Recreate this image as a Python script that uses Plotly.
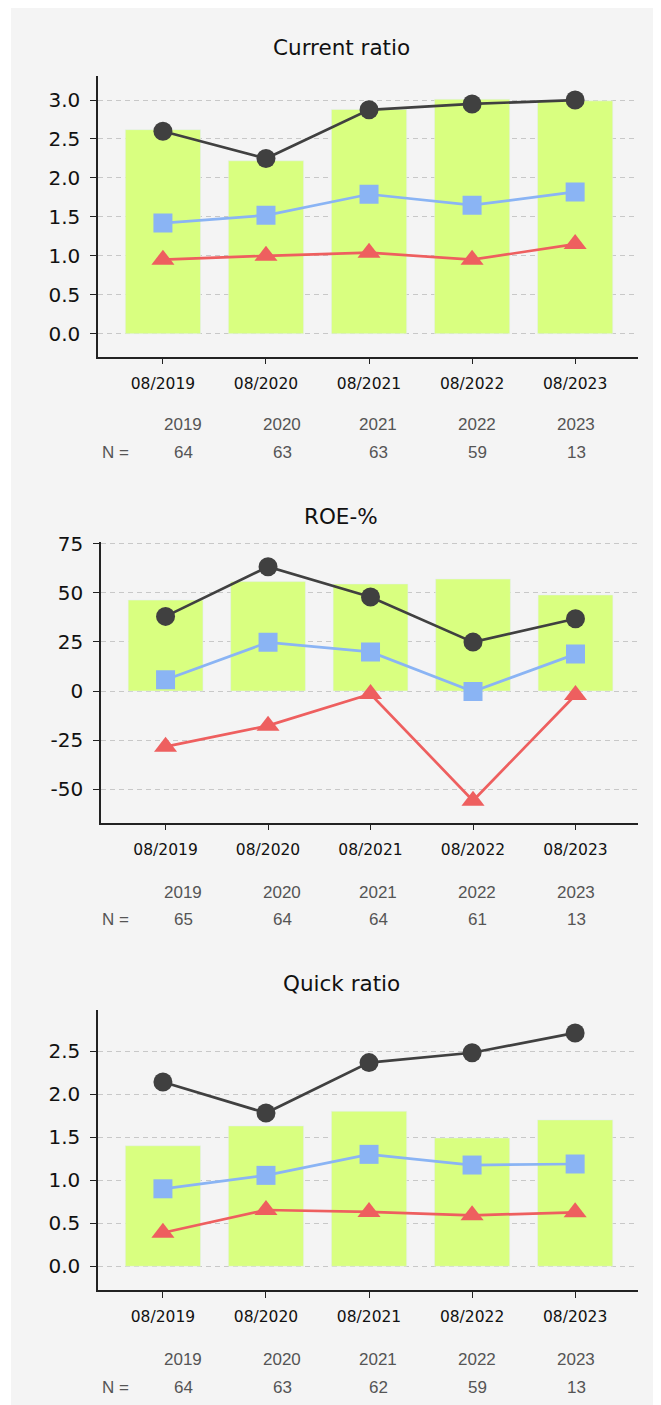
import plotly.graph_objects as go

# page has an 8px body margin, so the figure is shifted by that
OFF = 8
W, H = 661 - OFF, 1405 - OFF

periods = ["08/2019", "08/2020", "08/2021", "08/2022", "08/2023"]
years = ["2019", "2020", "2021", "2022", "2023"]

titles = ["Current ratio", "ROE-%", "Quick ratio"]

# current ratio
cr_bar = [2.62, 2.22, 2.88, 3.01, 2.99]
cr_upper = [2.60, 2.25, 2.875, 2.95, 3.00]
cr_median = [1.42, 1.52, 1.79, 1.65, 1.82]
cr_lower = [0.95, 1.00, 1.04, 0.95, 1.15]
cr_n = [64, 63, 63, 59, 13]

# ROE-%
roe_bar = [46.3, 55.7, 54.5, 57.0, 48.9]
roe_upper = [38.0, 63.3, 47.9, 24.9, 36.8]
roe_median = [5.8, 24.8, 19.9, -0.2, 18.8]
roe_lower = [-28.3, -17.6, -1.5, -55.8, -2.0]
roe_n = [65, 64, 64, 61, 13]

# quick ratio
qr_bar = [1.40, 1.63, 1.80, 1.49, 1.70]
qr_upper = [2.14, 1.78, 2.365, 2.48, 2.71]
qr_median = [0.90, 1.056, 1.30, 1.176, 1.188]
qr_lower = [0.39, 0.654, 0.631, 0.592, 0.627]
qr_n = [64, 63, 62, 59, 13]

cr_ticks = [0.0, 0.5, 1.0, 1.5, 2.0, 2.5, 3.0]
roe_ticks = [-50, -25, 0, 25, 50, 75]
qr_ticks = [0.0, 0.5, 1.0, 1.5, 2.0, 2.5]


def px(x):
    return (x - OFF) / W


def py(y):
    return 1 - (y - OFF) / H


charts = [
    dict(bar=cr_bar, up=cr_upper, med=cr_median, low=cr_lower, n=cr_n,
         ticks=cr_ticks, fmt="{:.1f}", yr=[-0.296, 3.309],
         top=76, bottom=356.7, left=98, title_y=48, yrow=425, nrow=452),
    dict(bar=roe_bar, up=roe_upper, med=roe_median, low=roe_lower, n=roe_n,
         ticks=roe_ticks, fmt="{:d}", yr=[-67.0, 75.7],
         top=542.3, bottom=822.7, left=101, title_y=516, yrow=892, nrow=919),
    dict(bar=qr_bar, up=qr_upper, med=qr_median, low=qr_lower, n=qr_n,
         ticks=qr_ticks, fmt="{:.1f}", yr=[-0.275, 2.976],
         top=1010, bottom=1290, left=98, title_y=983, yrow=1359, nrow=1387),
]

BAR = "#d9ff80"
DARK = "#404040"
BLUE = "#8ab4f4"
RED = "#ee5f5f"
TICKFONT = "DejaVu Sans"
TABFONT = "Liberation Sans, Arial"

year_x = [183, 282, 378, 477, 576]

fig = go.Figure()
annotations = []
for i, c in enumerate(charts):
    k = "" if i == 0 else str(i + 1)
    xa, ya = "x" + k, "y" + k
    fig.add_trace(go.Bar(x=periods, y=c["bar"], marker_color=BAR, width=0.73,
                         xaxis=xa, yaxis=ya, hoverinfo="skip"))
    for vals, col, sym, sz in [(c["up"], DARK, "circle", 19),
                               (c["med"], BLUE, "square", 19),
                               (c["low"], RED, "triangle-up", 20)]:
        fig.add_trace(go.Scatter(x=periods, y=vals, mode="lines+markers",
                                 line=dict(color=col, width=2.7),
                                 marker=dict(symbol=sym, size=sz, color=col),
                                 xaxis=xa, yaxis=ya))
    dom_x = [px(c["left"]), px(638)]
    dom_y = [py(c["bottom"]), py(c["top"])]
    fig.update_layout(**{
        "xaxis" + k: dict(domain=dom_x, anchor=ya, range=[-0.63, 4.61],
                          automargin=False,
                          showline=True, linecolor="#222", linewidth=1.5,
                          ticks="outside", ticklen=6, tickcolor="#222",
                          ticklabelstandoff=6,
                          showgrid=False, zeroline=False,
                          tickfont=dict(family=TICKFONT, size=15.5, color="#111")),
        "yaxis" + k: dict(domain=dom_y, anchor=xa, range=c["yr"],
                          automargin=False,
                          tickvals=c["ticks"],
                          ticktext=[c["fmt"].format(v) for v in c["ticks"]],
                          showline=True, linecolor="#222", linewidth=1.5,
                          ticks="outside", ticklen=6, tickcolor="#222",
                          ticklabelstandoff=6,
                          showgrid=True, gridcolor="#c8c8c8", griddash="5px,4px",
                          gridwidth=1, zeroline=False,
                          tickfont=dict(family=TICKFONT, size=20, color="#111")),
    })
    annotations.append(dict(text=titles[i], x=px(341), y=py(c["title_y"]),
                            xref="paper", yref="paper", showarrow=False,
                            xanchor="center", yanchor="middle",
                            font=dict(family=TICKFONT, size=21.5, color="#111")))
    annotations.append(dict(text="N =", x=px(115), y=py(c["nrow"]),
                            xref="paper", yref="paper", showarrow=False,
                            xanchor="center", yanchor="middle",
                            font=dict(family=TABFONT, size=17, color="#555")))
    for j, yy in enumerate(years):
        annotations.append(dict(text=yy, x=px(year_x[j]), y=py(c["yrow"]),
                                xref="paper", yref="paper", showarrow=False,
                                xanchor="center", yanchor="middle",
                                font=dict(family=TABFONT, size=17, color="#555")))
        annotations.append(dict(text=str(c["n"][j]), x=px(year_x[j]), y=py(c["nrow"]),
                                xref="paper", yref="paper", showarrow=False,
                                xanchor="center", yanchor="middle",
                                font=dict(family=TABFONT, size=17, color="#555")))

fig.update_layout(
    width=W, height=H, showlegend=False,
    margin=dict(l=0, r=0, t=0, b=0, pad=0),
    paper_bgcolor="white", plot_bgcolor="rgba(0,0,0,0)",
    annotations=annotations,
    shapes=[dict(type="rect", xref="paper", yref="paper", x0=px(11), x1=px(659),
                 y0=0, y1=1, fillcolor="#f4f4f4", line_width=0, layer="below")],
)

fig.write_html("out.html")
